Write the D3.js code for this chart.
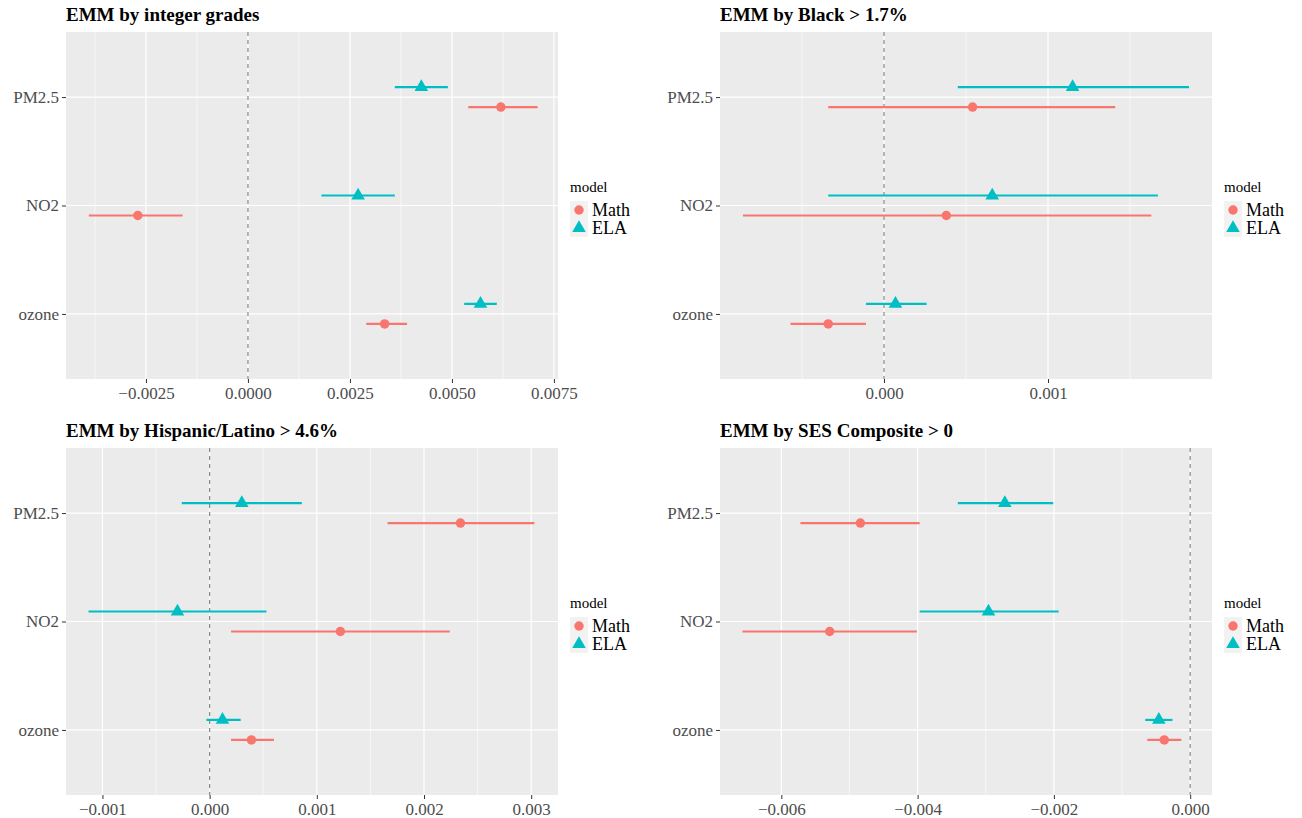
<!DOCTYPE html>
<html><head><meta charset="utf-8">
<script src="https://cdn.jsdelivr.net/npm/d3@7"></script>
<style>body{margin:0;background:#fff;}</style>
</head><body>
<svg id="chart" width="1302" height="818"></svg>
<script>
var pollutants = ['PM2.5', 'NO2', 'ozone'];
var models = ['Math', 'ELA'];
var titles = ['EMM by integer grades', 'EMM by Black > 1.7%', 'EMM by Hispanic/Latino > 4.6%', 'EMM by SES Composite > 0'];
var domains = [[-0.00446, 0.0076], [-0.001, 0.002], [-0.00134, 0.00325], [-0.0069, 0.00032]];
var tickVals = [
  [-0.0025, 0, 0.0025, 0.005, 0.0075],
  [0, 0.001],
  [-0.001, 0, 0.001, 0.002, 0.003],
  [-0.006, -0.004, -0.002, 0]
];
var tickFmt = [d3.format('.4f'), d3.format('.3f'), d3.format('.3f'), d3.format('.3f')];
// estimate, low, high per pollutant (PM2.5, NO2, ozone)
var mathVals = [
  [[0.0062, 0.0054, 0.0071], [-0.0027, -0.0039, -0.0016], [0.00335, 0.0029, 0.0039]],
  [[0.00054, -0.00034, 0.00141], [0.00038, -0.00086, 0.00163], [-0.00034, -0.00057, -0.00011]],
  [[0.00234, 0.00166, 0.00303], [0.00122, 0.0002, 0.00224], [0.00039, 0.0002, 0.0006]],
  [[-0.00484, -0.00572, -0.00397], [-0.00529, -0.00657, -0.00401], [-0.00038, -0.00063, -0.00013]]
];
var elaVals = [
  [[0.00425, 0.0036, 0.0049], [0.0027, 0.0018, 0.0036], [0.0057, 0.0053, 0.0061]],
  [[0.00115, 0.00045, 0.00186], [0.00066, -0.00034, 0.00167], [0.00007, -0.00011, 0.00026]],
  [[0.0003, -0.00026, 0.00086], [-0.0003, -0.00113, 0.00053], [0.00012, -0.00003, 0.00029]],
  [[-0.00272, -0.00341, -0.00201], [-0.00296, -0.00397, -0.00193], [-0.00046, -0.00066, -0.00026]]
];

var FONT = '"Liberation Serif", "DejaVu Serif", serif';
var colors = {Math: '#F8766D', ELA: '#00BFC4'};
var svg = d3.select('#chart');
var panels = [
  {x: 66, y: 32}, {x: 720, y: 32}, {x: 66, y: 448}, {x: 720, y: 448}
];
var W = 492, H = 347;

panels.forEach(function(p, i) {
  var g = svg.append('g').attr('transform', 'translate(' + p.x + ',' + p.y + ')');
  var x = d3.scaleLinear().domain(domains[i]).range([0, W]);
  var y = d3.scalePoint().domain(pollutants).range([0, H]).padding(0.6);

  g.append('rect').attr('width', W).attr('height', H).attr('fill', '#EBEBEB');

  var ticks = tickVals[i];
  var step = ticks.length > 1 ? ticks[1] - ticks[0] : 0.001;
  var minor = d3.range(ticks[0] - step / 2, domains[i][1], step)
    .filter(function(v) { return v > domains[i][0] && v < domains[i][1]; });
  g.selectAll('.minor').data(minor).enter().append('line')
    .attr('x1', x).attr('x2', x).attr('y1', 0).attr('y2', H)
    .attr('stroke', '#fff').attr('stroke-width', 0.6);
  g.selectAll('.major').data(ticks).enter().append('line')
    .attr('x1', x).attr('x2', x).attr('y1', 0).attr('y2', H)
    .attr('stroke', '#fff').attr('stroke-width', 1.2);
  g.selectAll('.hgrid').data(pollutants).enter().append('line')
    .attr('x1', 0).attr('x2', W).attr('y1', y).attr('y2', y)
    .attr('stroke', '#fff').attr('stroke-width', 1.2);

  g.append('line').attr('x1', x(0)).attr('x2', x(0)).attr('y1', 0).attr('y2', H)
    .attr('stroke', '#888').attr('stroke-dasharray', '4,4').attr('stroke-width', 1.2);

  var xa = g.append('g').attr('transform', 'translate(0,' + H + ')')
    .call(d3.axisBottom(x).tickValues(ticks).tickFormat(tickFmt[i]).tickSize(4).tickPadding(4));
  var ya = g.append('g').call(d3.axisLeft(y).tickSize(4).tickPadding(3));
  [xa, ya].forEach(function(a) {
    a.attr('font-family', FONT);
    a.select('.domain').remove();
    a.selectAll('line').attr('stroke', '#333');
    a.selectAll('text').attr('fill', '#4d4d4d').style('font-family', FONT).style('font-size', '17px');
  });

  var rows = [];
  pollutants.forEach(function(pol, j) {
    rows.push({model: 'ELA', pol: pol, v: elaVals[i][j], off: -10});
    rows.push({model: 'Math', pol: pol, v: mathVals[i][j], off: 10});
  });
  g.selectAll('.err').data(rows).enter().append('line')
    .attr('x1', function(d) { return x(d.v[1]); })
    .attr('x2', function(d) { return x(d.v[2]); })
    .attr('y1', function(d) { return y(d.pol) + d.off; })
    .attr('y2', function(d) { return y(d.pol) + d.off; })
    .attr('stroke', function(d) { return colors[d.model]; }).attr('stroke-width', 2.2);
  g.selectAll('.pt').data(rows).enter().append('path')
    .attr('d', function(d) {
      return d.model === 'Math' ? d3.symbol(d3.symbolCircle, 70)() : d3.symbol(d3.symbolTriangle, 80)();
    })
    .attr('transform', function(d) { return 'translate(' + x(d.v[0]) + ',' + (y(d.pol) + d.off) + ')'; })
    .attr('fill', function(d) { return colors[d.model]; });

  svg.append('text').attr('x', p.x).attr('y', p.y - 11)
    .style('font-family', FONT).style('font-weight', 'bold').style('font-size', '19px')
    .attr('fill', '#000').text(titles[i]);

  var lg = svg.append('g').attr('transform', 'translate(' + (p.x + W + 12) + ',' + (p.y + 160) + ')');
  lg.append('text').attr('y', 0).style('font-family', FONT).style('font-size', '15px').attr('fill', '#000').text('model');
  models.forEach(function(m, k) {
    var yy = 18 + k * 18;
    lg.append('rect').attr('x', 0).attr('y', yy - 9).attr('width', 18).attr('height', 18).attr('fill', '#F2F2F2');
    lg.append('path').attr('d', d3.symbol(m === 'Math' ? d3.symbolCircle : d3.symbolTriangle, m === 'Math' ? 70 : 80)())
      .attr('transform', 'translate(9,' + yy + ')').attr('fill', colors[m]);
    lg.append('text').attr('x', 22).attr('y', yy + 6).style('font-family', FONT).style('font-size', '18px').attr('fill', '#000').text(m);
  });
});
</script>
</body></html>
